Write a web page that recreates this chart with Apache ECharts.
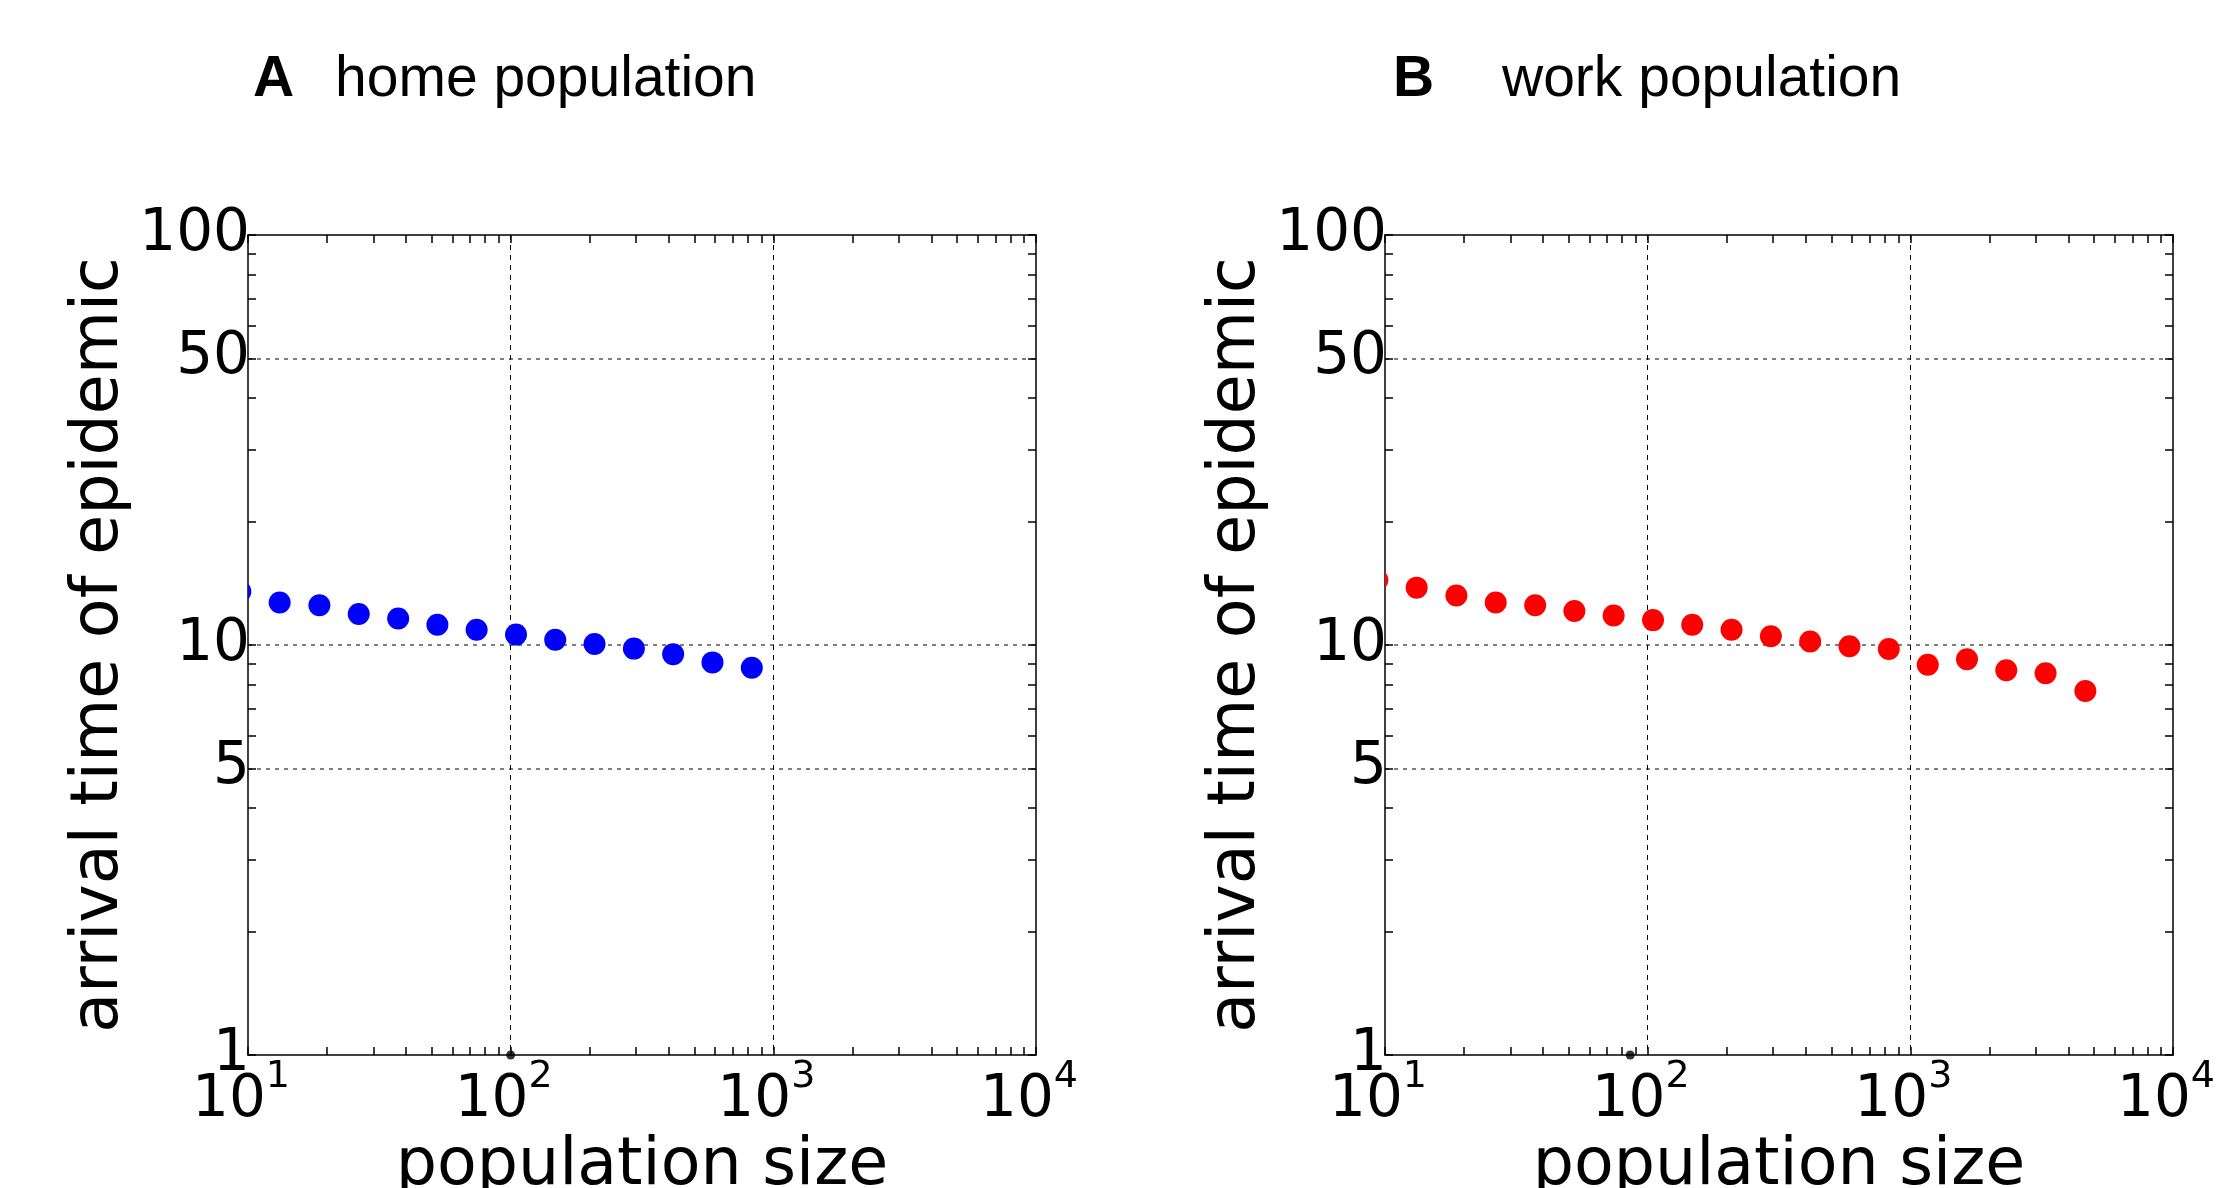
<!DOCTYPE html>
<html>
<head>
<meta charset="utf-8">
<script src="https://cdn.jsdelivr.net/npm/echarts@6/dist/echarts.min.js"></script>
<style>
html,body{margin:0;padding:0;background:#fff;}
#chart{width:2227px;height:1188px;}
</style>
</head>
<body>
<div id="chart"></div>
<script>
// population size of each bin (log spaced), shared by both panels
var popSize = [9.35, 13.2, 18.7, 26.4, 37.3, 52.6, 74.2, 104.8, 147.8, 208.6, 294.5, 415.5, 586.5, 828, 1165, 1643, 2319, 3273, 4638];
// arrival time of epidemic
var homeArrival = [13.5, 12.7, 12.5, 11.9, 11.6, 11.2, 10.9, 10.6, 10.3, 10.06, 9.8, 9.5, 9.07, 8.8];
var workArrival = [14.4, 13.8, 13.2, 12.7, 12.5, 12.1, 11.8, 11.5, 11.2, 10.9, 10.5, 10.2, 9.93, 9.78, 8.95, 9.23, 8.68, 8.53, 7.72];
// the small black marks sitting on the bottom axis
var strayHome = [[100, 1]];
var strayWork = [[85.8, 1]];

var panelTitles = ['home population', 'work population'];
var panelLetters = ['A', 'B'];
var xLabelValues = [10, 100, 1000, 10000];
var xGridValues = [100, 1000];
var yLabelValues = [1, 5, 10, 50, 100];
var yGridValues = [5, 10, 50];

var FONT = 'DejaVu Sans';

// minor ticks 1..9 x 10^k like matplotlib
function decadeTicks(lo, hi) {
    var out = [];
    for (var d = lo; d < hi; d *= 10) {
        for (var k = 1; k < 10; k++) out.push(d * k);
    }
    out.push(hi);
    return out;
}
var xTicks = decadeTicks(10, 10000);
var yTicks = decadeTicks(1, 100);

function pairs(xs, ys) {
    var res = [];
    for (var i = 0; i < ys.length; i++) res.push([xs[i], ys[i]]);
    return res;
}

var gridLeft = [248, 1385];

var tickStyle = {show: true, inside: true, length: 8, lineStyle: {color: '#000', width: 1.5}};
var lineStyleAxis = {show: true, onZero: false, lineStyle: {color: '#000', width: 1.5}};

function makeXAxes(gi) {
    return [{
        gridIndex: gi, type: 'log', logBase: 10, min: 10, max: 10000, position: 'bottom',
        axisLine: lineStyleAxis,
        axisTick: Object.assign({customValues: xTicks}, tickStyle),
        axisLabel: {
            customValues: xLabelValues, margin: 3,
            formatter: function (v) {
                return '{m|10}{s|' + Math.round(Math.log10(v)) + '}';
            },
            rich: {
                m: {fontSize: 58, fontFamily: FONT, color: '#000', verticalAlign: 'bottom'},
                s: {fontSize: 38, fontFamily: FONT, color: '#000', padding: [0, 14, 34, 0]}
            }
        },
        splitLine: {show: false},
        name: 'population size', nameLocation: 'middle', nameGap: 80,
        nameMoveOverlap: false,
        nameTextStyle: {fontSize: 65, fontFamily: FONT, color: '#000'}
    }, {
        gridIndex: gi, type: 'log', logBase: 10, min: 10, max: 10000, position: 'top',
        axisLine: lineStyleAxis,
        axisTick: Object.assign({customValues: xTicks}, tickStyle),
        axisLabel: {show: false},
        splitLine: {show: false}
    }, {
        gridIndex: gi, type: 'log', logBase: 10, min: 10, max: 10000, position: 'bottom',
        axisLine: {show: false},
        axisTick: {show: false, customValues: xGridValues},
        axisLabel: {show: false},
        splitLine: {show: true, lineStyle: {color: '#000', width: 1, type: [5, 5]}}
    }];
}

function makeYAxes(gi) {
    return [{
        gridIndex: gi, type: 'log', logBase: 10, min: 1, max: 100, position: 'left',
        axisLine: lineStyleAxis,
        axisTick: Object.assign({customValues: yTicks}, tickStyle),
        axisLabel: {customValues: yLabelValues, margin: -2, fontSize: 58, fontFamily: FONT, color: '#000'},
        splitLine: {show: false},
        name: 'arrival time of epidemic', nameLocation: 'middle', nameGap: 115,
        nameMoveOverlap: false,
        nameTextStyle: {fontSize: 65, fontFamily: FONT, color: '#000'}
    }, {
        gridIndex: gi, type: 'log', logBase: 10, min: 1, max: 100, position: 'right',
        axisLine: lineStyleAxis,
        axisTick: Object.assign({customValues: yTicks}, tickStyle),
        axisLabel: {show: false},
        splitLine: {show: false}
    }, {
        gridIndex: gi, type: 'log', logBase: 10, min: 1, max: 100, position: 'left',
        axisLine: {show: false},
        axisTick: {show: false, customValues: yGridValues},
        axisLabel: {show: false},
        splitLine: {show: true, lineStyle: {color: '#555', width: 1.5, type: [4, 5]}}
    }];
}

// dots drawn as circles so the one on the left edge gets cut by the frame
function renderDot(params, api) {
    var p = api.coord([api.value(0), api.value(1)]);
    return {
        type: 'circle',
        shape: {cx: p[0], cy: p[1], r: 11},
        style: {fill: api.visual('color')}
    };
}

var myChart = echarts.init(document.getElementById('chart'));

var titles = [];
var grids = [];
for (var g = 0; g < 2; g++) {
    grids.push({left: gridLeft[g], top: 235, width: 788, height: 820, outerBoundsMode: 'none', containLabel: false});
}
titles.push({text: panelLetters[0], left: 253, top: 52, padding: 0,
    textStyle: {fontFamily: 'Liberation Sans', fontWeight: 'bold', fontSize: 57, color: '#000'}});
titles.push({text: panelTitles[0], left: 335, top: 52, padding: 0,
    textStyle: {fontFamily: 'Liberation Sans', fontWeight: 'normal', fontSize: 57, color: '#000'}});
titles.push({text: panelLetters[1], left: 1393, top: 52, padding: 0,
    textStyle: {fontFamily: 'Liberation Sans', fontWeight: 'bold', fontSize: 57, color: '#000'}});
titles.push({text: panelTitles[1], left: 1502, top: 52, padding: 0,
    textStyle: {fontFamily: 'Liberation Sans', fontWeight: 'normal', fontSize: 57, color: '#000'}});

var option = {
    animation: false,
    backgroundColor: '#fff',
    title: titles,
    grid: grids,
    xAxis: makeXAxes(0).concat(makeXAxes(1)),
    yAxis: makeYAxes(0).concat(makeYAxes(1)),
    series: [{
        type: 'custom', name: 'home', xAxisIndex: 0, yAxisIndex: 0, clip: true,
        itemStyle: {color: '#0000ff'},
        encode: {x: 0, y: 1},
        renderItem: renderDot,
        data: pairs(popSize, homeArrival)
    }, {
        type: 'custom', name: 'work', xAxisIndex: 3, yAxisIndex: 3, clip: true,
        itemStyle: {color: '#ff0000'},
        encode: {x: 0, y: 1},
        renderItem: renderDot,
        data: pairs(popSize, workArrival)
    }, {
        type: 'scatter', xAxisIndex: 0, yAxisIndex: 0, clip: false,
        symbol: 'circle', symbolSize: 9, itemStyle: {color: '#000'},
        data: strayHome
    }, {
        type: 'scatter', xAxisIndex: 3, yAxisIndex: 3, clip: false,
        symbol: 'circle', symbolSize: 9, itemStyle: {color: '#000'},
        data: strayWork
    }]
};
myChart.setOption(option);
</script>
</body>
</html>
